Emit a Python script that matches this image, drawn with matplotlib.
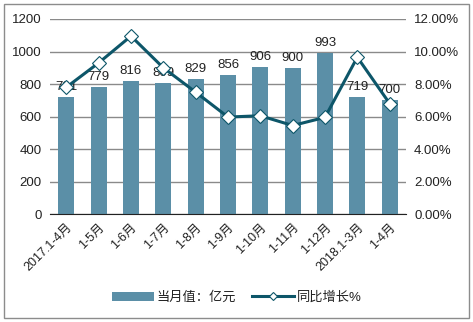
import matplotlib
matplotlib.use("Agg")
import matplotlib.pyplot as plt
from matplotlib.patches import Rectangle
from matplotlib.ticker import FuncFormatter

plt.rcParams['font.family'] = ['Liberation Sans', 'Noto Sans CJK SC', 'DejaVu Sans']

categories = ['2017.1-4月', '1-5月', '1-6月', '1-7月', '1-8月', '1-9月',
              '1-10月', '1-11月', '1-12月', '2018.1-3月', '1-4月']
monthly_value = [721, 779, 816, 809, 829, 856, 906, 900, 993, 719, 700]
yoy_growth = [7.8, 9.3, 10.95, 9.0, 7.5, 5.97, 6.05, 5.45, 5.95, 9.65, 6.8]

bar_color = '#5B8FA7'
line_color = '#0D5669'
text_color = '#222222'

fig = plt.figure(figsize=(4.73, 3.22), dpi=100)
fig.patches.append(Rectangle((0.008, 0.012), 0.984, 0.976, transform=fig.transFigure,
                             fill=False, edgecolor='#8c8c8c', linewidth=1.0))
ax = fig.add_axes([0.106, 0.335, 0.752, 0.606])
ax2 = ax.twinx()

x = list(range(len(categories)))
ax.bar(x, monthly_value, width=0.5, color=bar_color, zorder=2, label='当月值：亿元')
for xi, v in zip(x, monthly_value):
    ax.text(xi, v + 25, str(v), ha='center', va='bottom', fontsize=9.5, color=text_color, zorder=5)

ax2.plot(x, yoy_growth, color=line_color, linewidth=2.2, marker='D', markersize=7,
         markerfacecolor='white', markeredgecolor=line_color, markeredgewidth=0.8,
         zorder=4, label='同比增长%')

ax.set_ylim(0, 1200)
ax.set_yticks(range(0, 1201, 200))
ax2.set_ylim(0, 12)
ax2.set_yticks(range(0, 13, 2))
ax2.yaxis.set_major_formatter(FuncFormatter(lambda v, p: f'{v:.2f}%'))
ax.set_xlim(-0.5, len(categories) - 0.5)

ax.grid(axis='y', color='#8a8a8a', linewidth=1.0, zorder=0)
ax.set_axisbelow(True)
for a in (ax, ax2):
    for s in ('top', 'left', 'right'):
        a.spines[s].set_visible(False)
    a.spines['bottom'].set_color('#222222')
    a.tick_params(axis='y', length=0, labelsize=9.5, colors=text_color, pad=6)
ax2.spines['bottom'].set_visible(False)
ax.tick_params(axis='x', length=0, pad=5)
ax.set_xticks(x)
ax.set_xticklabels(categories, rotation=45, ha='right', rotation_mode='anchor',
                   fontsize=9, color=text_color)

ax.set_zorder(1)
ax2.set_zorder(2)
ax.patch.set_visible(False)

h1, l1 = ax.get_legend_handles_labels()
h2, l2 = ax2.get_legend_handles_labels()
fig.legend(h1 + h2, l1 + l2, loc='center', bbox_to_anchor=(0.5, 0.075), ncol=2,
           frameon=False, fontsize=9.5, handlelength=3.2, handletextpad=0.2,
           columnspacing=1.2, labelcolor=text_color, markerscale=0.65)

fig.savefig('out.png', dpi=100)
